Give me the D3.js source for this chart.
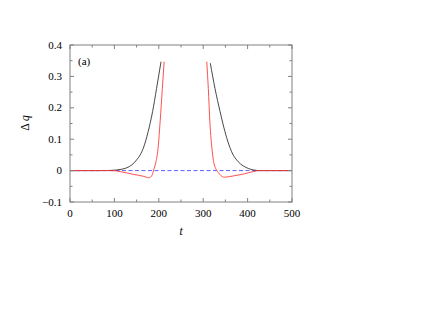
<!DOCTYPE html>
<html><head><meta charset="utf-8">
<script src="https://cdn.jsdelivr.net/npm/d3@7"></script>
<style>body{margin:0;background:#fff}svg{display:block}text{font-family:"Liberation Serif","Times New Roman",serif}</style>
</head><body>
<script>
// Data
const xTicks = [0,100,200,300,400,500];
const yTicks = [-0.1,0,0.1,0.2,0.3,0.4];
const yTickLabels = ["\u22120.1","0","0.1","0.2","0.3","0.4"];
const blackLeftT = [0,60,90,105,115,128,140,150,158,165,176,186,195,205];
const blackLeftV = [0,0,0.0005,0.002,0.004,0.009,0.019,0.034,0.05,0.071,0.124,0.188,0.262,0.347];
const blackRightT = [316,326.5,338,349,364,379,390,401.5,413,430,500];
const blackRightV = [0.342,0.262,0.188,0.124,0.06,0.028,0.015,0.007,0.002,0,0];
const redLeftT = [0,90,105,112.5,130,142.5,155,165,172,177,182,186,188,193,197.5,203,208,212];
const redLeftV = [0,0,-0.001,-0.003,-0.008,-0.012,-0.015,-0.018,-0.021,-0.023,-0.02,-0.01,0,0.025,0.06,0.156,0.262,0.347];
const redRightT = [308,311.5,315,320.5,324,328,334,340,347.5,360,371.5,394,413,428,500];
const redRightV = [0.347,0.262,0.156,0.06,0.025,0.007,-0.006,-0.016,-0.021,-0.019,-0.016,-0.01,-0.003,0,0];

const W=423,H=327;
const svg=d3.select("body").append("svg").attr("width",W).attr("height",H);
svg.append("rect").attr("width",W).attr("height",H).attr("fill","#fff");
const L=70,R=292,T=45,B=202;
const x=d3.scaleLinear().domain([0,500]).range([L,R]);
const y=d3.scaleLinear().domain([-0.1,0.4]).range([B,T]);
const axisCol="#808080";

// zero dashed line
svg.append("line").attr("x1",x(0)).attr("x2",x(500)).attr("y1",y(0)).attr("y2",y(0))
  .attr("stroke","#4a4aff").attr("stroke-width",0.9).attr("stroke-dasharray","4,2.5");

const line=d3.line().x(d=>x(d[0])).y(d=>y(d[1])).curve(d3.curveMonotoneX);
function draw(ts,vs,col){
  svg.append("path").datum(ts.map((t,i)=>[t,vs[i]])).attr("d",line)
    .attr("fill","none").attr("stroke",col).attr("stroke-width",0.9);
}
draw(blackLeftT,blackLeftV,"#333");
draw(blackRightT,blackRightV,"#333");
draw(redLeftT,redLeftV,"#ff3b3b");
draw(redRightT,redRightV,"#ff3b3b");

// frame
svg.append("rect").attr("x",L).attr("y",T).attr("width",R-L).attr("height",B-T)
  .attr("fill","none").attr("stroke",axisCol).attr("stroke-width",1);

// inward ticks on all sides
const xMinor=d3.range(0,501,50);
const yMinor=d3.range(-0.1,0.4001,0.05);
const g=svg.append("g").attr("stroke",axisCol).attr("stroke-width",1);
xMinor.forEach(t=>{
  const len = (t%100===0)?4:2.5;
  g.append("line").attr("x1",x(t)).attr("x2",x(t)).attr("y1",B).attr("y2",B-len);
  g.append("line").attr("x1",x(t)).attr("x2",x(t)).attr("y1",T).attr("y2",T+len);
});
yMinor.forEach((v,i)=>{
  const len = (i%2===0)?4:2.5;
  g.append("line").attr("y1",y(v)).attr("y2",y(v)).attr("x1",L).attr("x2",L+len);
  g.append("line").attr("y1",y(v)).attr("y2",y(v)).attr("x1",R).attr("x2",R-len);
});

// tick labels
xTicks.forEach(t=>{
  svg.append("text").attr("x",x(t)).attr("y",B+15).attr("text-anchor","middle")
    .attr("font-size",11).attr("fill","#000").text(t);
});
yTicks.forEach((v,i)=>{
  svg.append("text").attr("x",L-8).attr("y",y(v)+3.5).attr("text-anchor","end")
    .attr("font-size",11).attr("fill","#000").text(yTickLabels[i]);
});

// axis titles
svg.append("text").attr("x",x(250)).attr("y",235).attr("text-anchor","middle")
  .attr("font-size",11.5).attr("font-style","italic").text("t");
const yl=svg.append("text").attr("transform","translate(29,123) rotate(-90)").attr("text-anchor","middle")
  .attr("font-size",11.5);
yl.append("tspan").text("\u0394 ");
yl.append("tspan").attr("font-style","italic").text("q");

svg.append("text").attr("x",78).attr("y",64.5).attr("font-size",11).text("(a)");
</script>
</body></html>
